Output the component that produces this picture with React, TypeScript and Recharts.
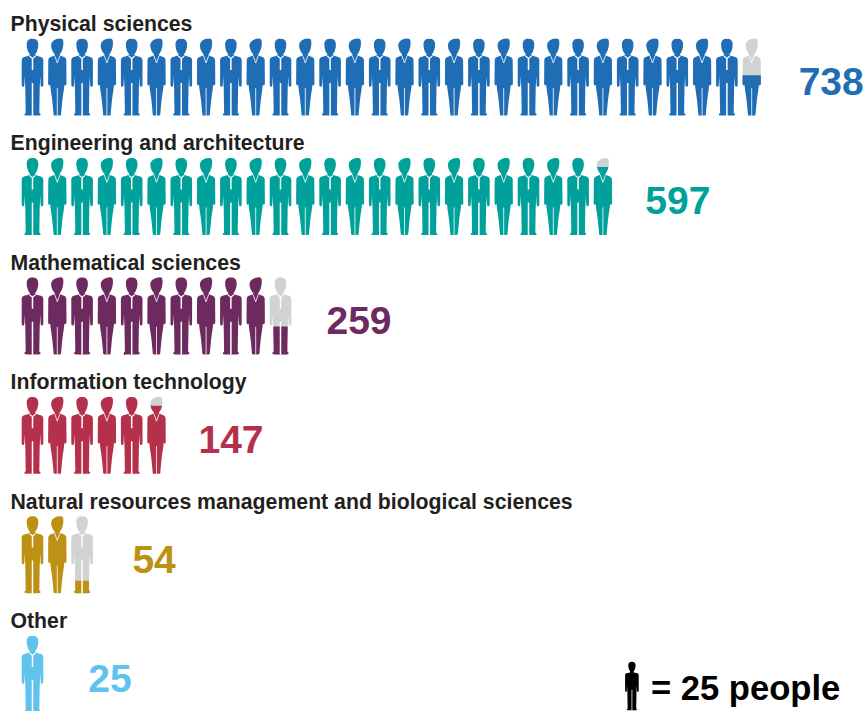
import React from "react";
import { ScatterChart, Scatter, XAxis, YAxis } from "recharts";

const categories = [
  "Physical sciences",
  "Engineering and architecture",
  "Mathematical sciences",
  "Information technology",
  "Natural resources management and biological sciences",
  "Other",
];
const people = [738, 597, 259, 147, 54, 25];
const colors = ["#1f6db5", "#00a19a", "#6d2a5f", "#b5304a", "#bd9113", "#5fc3ee"];
const peoplePerIcon = 25;

const WIDTH = 867;
const HEIGHT = 711;
const SLOT = 24.8;
const ROW = 119.4;
const X0 = 32.5;
const Y0 = 78;
const FONT = '"Liberation Sans", Arial, sans-serif';
// gap between the last figure and the centre of the number, per row
const valueGaps = [79.5, 75, 78.5, 74.5, 72, 77.5];

// Figures are drawn around (0, 0), 78px tall
const MAN =
  "M0 -39.3C3.8 -39.3 5.8 -37.4 5.8 -33.6C5.8 -29.6 4.6 -26 2.6 -23.8L3 -22.4L8.4 -21C10 -20.4 10.8 -19.4 10.8 -17.6L10.8 6.5C10.8 8 10.2 8.8 9.4 8.8C8.6 8.8 8.2 8 8.1 6.5L7.8 -2L7.2 10L6.8 35C8 35.6 8.2 36.4 8 37C7.8 37.6 7 37.6 6 37.6" +
  "L-6 37.6C-7 37.6 -7.8 37.6 -8 37C-8.2 36.4 -8 35.6 -6.8 35L-7.2 10L-7.8 -2L-8.1 6.5C-8.2 8 -8.6 8.8 -9.4 8.8C-10.2 8.8 -10.8 8 -10.8 6.5L-10.8 -17.6C-10.8 -19.4 -10 -20.4 -8.4 -21L-3 -22.4L-2.6 -23.8C-4.6 -26 -5.8 -29.6 -5.8 -33.6C-5.8 -37.4 -3.8 -39.3 0 -39.3Z";
const MAN_COLLAR = "M-3 -22L0 -19.6L3 -22";
const MAN_LINES = "M0 -19.6V-8M0 5V38";
const WOMAN =
  "M2 -39.4C4 -39.6 5.6 -39 5.8 -37.6C6 -36.6 6.2 -35.6 6 -33.6C5.8 -30 4.5 -26 2.4 -23.6L2.6 -22.6L6.8 -21C8.2 -20.4 8.9 -19.4 9 -18L9.2 5C9.2 6.6 8.7 7.4 8 7.4C7.3 7.4 6.9 6.6 6.8 5.4L6.2 -6C6.2 -2 7.2 0 7.2 4C7.2 10 5.6 17 5 23L3.8 35.4C4 36.8 3.6 37.6 2.4 37.6" +
  "L-2.4 37.6C-3.6 37.6 -4 36.8 -3.8 35.4L-5 23C-5.6 17 -7.2 10 -7.2 4C-7.2 0 -6.2 -2 -6.2 -6L-6.8 5.4C-6.9 6.6 -7.3 7.4 -8 7.4C-8.7 7.4 -9.2 6.6 -9.2 5L-9 -18C-8.9 -19.4 -8.2 -20.4 -6.8 -21L-2.6 -22.6L-2.4 -23.6C-5 -26 -6.2 -30 -6.2 -32.5C-6.2 -36 -3 -38.8 2 -39.4Z";
const WOMAN_LINES = "M-2.6 -22.4L0 -15L2.6 -22.4M0 10V38";

const FIG_TOP = -39.8;
const FIG_HEIGHT = 77.4;

interface IconPoint {
  id: string;
  slot: number;
  row: number;
  fraction: number;
  color: string;
}

// one entry per figure, the last may be only partly coloured
const icons: IconPoint[] = people.flatMap((value, row) => {
  const count = Math.ceil(value / peoplePerIcon);
  return Array.from({ length: count }, (_, slot) => ({
    id: `fig-${row}-${slot}`,
    slot,
    row,
    fraction: Math.min(1, value / peoplePerIcon - slot),
    color: colors[row],
  }));
});

const titles = categories.map((name, row) => ({ name, row, slot: 0 }));

const values = people.map((value, row) => ({
  value,
  row,
  slot: Math.ceil(value / peoplePerIcon) - 1 + valueGaps[row] / SLOT,
  color: colors[row],
}));

const legend = [{ slot: 24.17, row: 5 }];

const Figure = (props: any) => {
  const { cx, cy, payload } = props;
  const isMan = payload.slot % 2 === 0;
  const d = isMan ? MAN : WOMAN;
  const cut = FIG_TOP + FIG_HEIGHT * (1 - payload.fraction);
  return (
    <g transform={`translate(${cx},${cy})`}>
      {payload.fraction < 1 && <path d={d} fill="#d1d2d4" />}
      <clipPath id={payload.id}>
        <rect x={-14} y={cut} width={28} height={FIG_HEIGHT + 2} />
      </clipPath>
      <path d={d} fill={payload.color} clipPath={`url(#${payload.id})`} />
      {isMan && <path d={MAN_COLLAR} fill="none" stroke="#ffffff" strokeWidth={1.2} />}
      <path
        d={isMan ? MAN_LINES : WOMAN_LINES}
        fill="none"
        stroke="#ffffff"
        strokeWidth={isMan ? 1.5 : 0.8}
      />
    </g>
  );
};

const Title = (props: any) => (
  <text
    x={props.cx - 22}
    y={props.cy - 47}
    fontFamily={FONT}
    fontWeight={700}
    fontSize={21.25}
    fill="#231f20"
  >
    {props.payload.name}
  </text>
);

const ValueText = (props: any) => (
  <text
    x={props.cx}
    y={props.cy + 17}
    textAnchor="middle"
    fontFamily={FONT}
    fontWeight={700}
    fontSize={39}
    fill={props.payload.color}
  >
    {props.payload.value}
  </text>
);

const LegendMark = (props: any) => (
  <g>
    <g transform={`translate(${props.cx},${props.cy + 11.5}) scale(0.63)`}>
      <path d={MAN} fill="#000000" />
      <path d="M0 5V38" fill="none" stroke="#ffffff" strokeWidth={1.2} />
    </g>
    <text
      x={props.cx + 19}
      y={props.cy + 25}
      fontFamily={FONT}
      fontWeight={700}
      fontSize={34.6}
      fill="#000000"
    >
      = {peoplePerIcon} people
    </text>
  </g>
);

export default function App() {
  return (
    <div style={{ position: "absolute", left: 0, top: 0, width: WIDTH, height: HEIGHT }}>
      <ScatterChart
        width={WIDTH}
        height={HEIGHT}
        margin={{ top: 0, right: 0, bottom: 0, left: 0 }}
      >
        <XAxis
          type="number"
          dataKey="slot"
          hide
          domain={[-X0 / SLOT, (WIDTH - X0) / SLOT]}
        />
        <YAxis
          type="number"
          dataKey="row"
          hide
          reversed
          domain={[-Y0 / ROW, (HEIGHT - Y0) / ROW]}
        />
        <Scatter data={icons} shape={Figure} isAnimationActive={false} />
        <Scatter data={titles} shape={Title} isAnimationActive={false} />
        <Scatter data={values} shape={ValueText} isAnimationActive={false} />
        <Scatter data={legend} shape={LegendMark} isAnimationActive={false} />
      </ScatterChart>
    </div>
  );
}
